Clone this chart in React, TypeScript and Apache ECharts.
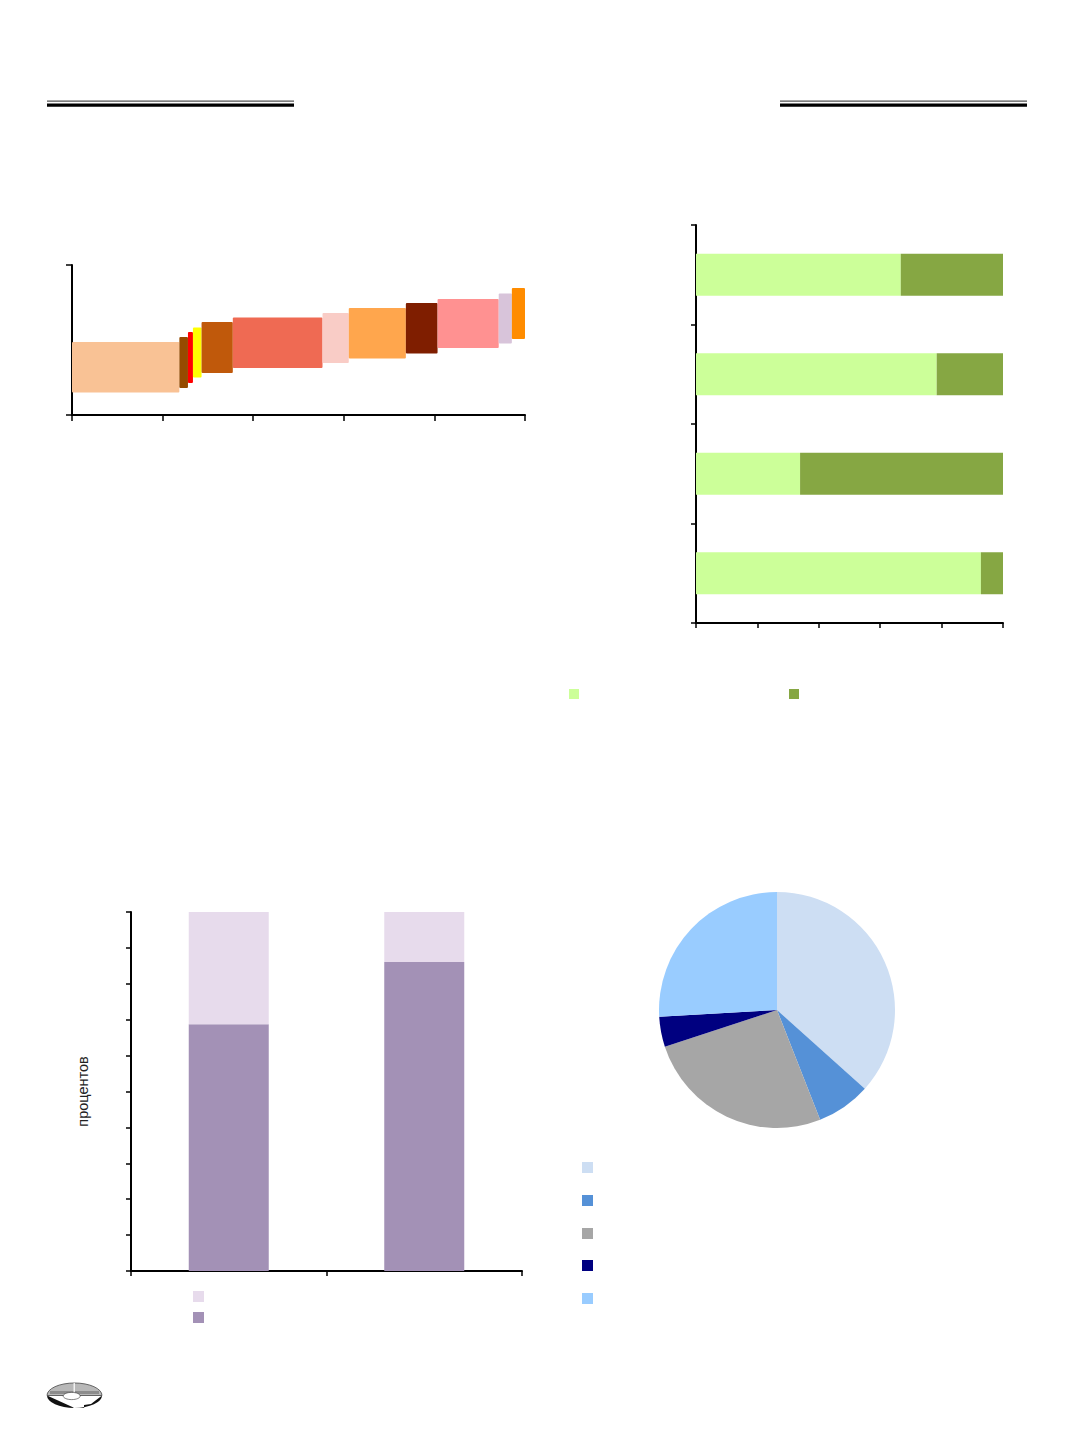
import React, { useEffect, useRef } from "react";
import * as echarts from "echarts";

// ---------- Data ----------
// Chart 1: floating boxes (x-range on a 0..100 cumulative scale, y-range)
const boxLeft = [0, 23.7, 25.6, 26.7, 28.6, 35.5, 55.3, 61.1, 73.7, 80.7, 94.2, 97.1];
const boxRight = [23.7, 25.6, 26.7, 28.6, 35.5, 55.3, 61.1, 73.7, 80.7, 94.2, 97.1, 100];
const boxLow = [4.5, 5.4, 6.4, 7.5, 8.4, 9.4, 10.4, 11.3, 12.3, 13.4, 14.3, 15.2];
const boxHigh = [14.6, 15.6, 16.6, 17.5, 18.6, 19.5, 20.4, 21.4, 22.4, 23.2, 24.3, 25.4];
const boxColors = [
  "#F9C295", "#964B00", "#FF0000", "#FFFF00", "#C0590B", "#EF6A53",
  "#F9CCC6", "#FFA64D", "#7F1E00", "#FF9191", "#D8C4DA", "#FF8C00",
];

// Chart 2: horizontal 100% stacked bars (top to bottom)
const hbarCategories = ["1", "2", "3", "4"];
const hbarLight = [66.7, 78.4, 33.9, 92.8];
const hbarDark = [33.3, 21.6, 66.1, 7.2];

// Chart 3: vertical 100% stacked bars
const vbarCategories = ["1", "2"];
const vbarDark = [68.7, 86.1];
const vbarLight = [31.3, 13.9];

// Chart 4: pie
const pieNames = ["сектор 1", "сектор 2", "сектор 3", "сектор 4", "сектор 5"];
const pieValues = [36.6, 7.4, 25.9, 4.1, 25.9];
const pieColors = ["#CDDEF3", "#5591D7", "#A6A6A6", "#000080", "#99CCFF"];

// ---------- Logo shapes ----------
let registered = false;
function registerLogo() {
  if (registered) return;
  registered = true;
  echarts.graphic.registerShape(
    "logoTop",
    echarts.graphic.extendPath("M0,12.5 A27.5,12.5 0 0 1 55,12.5 Z", {})
  );
  echarts.graphic.registerShape(
    "logoBottom",
    echarts.graphic.extendPath("M0,12.5 A27.5,12.5 0 0 0 55,12.5 L44,21 L37,22 L37,25 L27,25 L27,24.8 Z", {})
  );
}

const axisLineStyle = { show: true, lineStyle: { color: "#000", width: 2 } };
const tickStyle = (len: number) => ({
  show: true,
  inside: false,
  length: len,
  lineStyle: { color: "#000", width: 1.5 },
});

export default function App() {
  const ref = useRef<HTMLDivElement>(null);

  useEffect(() => {
    if (!ref.current) return;
    registerLogo();
    const chart = echarts.init(ref.current, undefined, { renderer: "svg" });

    const boxData = boxLeft.map((l, i) => ({
      value: [l, boxRight[i], boxLow[i], boxHigh[i]],
      itemStyle: { color: boxColors[i] },
    }));

    const emptyLegend = (name: string, left: number, top: number, size: number) => ({
      data: [name],
      left,
      top,
      padding: 0,
      itemWidth: size,
      itemHeight: size,
      icon: "rect",
      selectedMode: false,
      formatter: () => "",
      textStyle: { fontSize: 8, lineHeight: 8, padding: 0 },
    });

    const option: any = {
      animation: false,
      grid: [
        { left: 72, top: 265, width: 453, height: 150 },
        { left: 696, top: 225, width: 307, height: 398 },
        { left: 131, top: 912, width: 391, height: 359 },
      ],
      xAxis: [
        {
          gridIndex: 0, type: "value", min: 0, max: 100, interval: 20,
          axisLine: axisLineStyle, axisTick: tickStyle(6),
          axisLabel: { show: false }, splitLine: { show: false },
        },
        {
          gridIndex: 1, type: "value", min: 0, max: 100, interval: 20,
          axisLine: axisLineStyle, axisTick: tickStyle(5),
          axisLabel: { show: false }, splitLine: { show: false },
        },
        {
          gridIndex: 2, type: "category", data: vbarCategories,
          axisLine: axisLineStyle, axisTick: tickStyle(5),
          axisLabel: { show: false }, splitLine: { show: false },
        },
      ],
      yAxis: [
        {
          gridIndex: 0, type: "value", min: 0, max: 30, interval: 30,
          axisLine: axisLineStyle, axisTick: tickStyle(6),
          axisLabel: { show: false }, splitLine: { show: false },
        },
        {
          gridIndex: 1, type: "category", data: hbarCategories, inverse: true,
          axisLine: axisLineStyle, axisTick: tickStyle(5),
          axisLabel: { show: false }, splitLine: { show: false },
        },
        {
          gridIndex: 2, type: "value", min: 0, max: 100, interval: 10,
          axisLine: axisLineStyle, axisTick: tickStyle(5),
          axisLabel: { show: false }, splitLine: { show: false },
          name: "процентов",
          nameLocation: "middle",
          nameRotate: 90,
          nameGap: 41,
          nameTextStyle: { fontFamily: "Liberation Sans", fontSize: 14.5, color: "#222" },
        },
      ],
      legend: [
        emptyLegend("ряд 1", 569, 689, 10),
        emptyLegend("ряд 2", 789, 689, 10),
        emptyLegend("доля 2", 193, 1291, 11),
        emptyLegend("доля 1", 193, 1312, 11),
        emptyLegend(pieNames[0], 582, 1162, 11),
        emptyLegend(pieNames[1], 582, 1195, 11),
        emptyLegend(pieNames[2], 582, 1228, 11),
        emptyLegend(pieNames[3], 582, 1260, 11),
        emptyLegend(pieNames[4], 582, 1293, 11),
      ],
      series: [
        {
          type: "custom",
          xAxisIndex: 0,
          yAxisIndex: 0,
          encode: { x: [0, 1], y: [2, 3] },
          data: boxData,
          renderItem: (params: any, api: any) => {
            const p0 = api.coord([api.value(0), api.value(3)]);
            const p1 = api.coord([api.value(1), api.value(2)]);
            return {
              type: "rect",
              shape: { x: p0[0], y: p0[1], width: p1[0] - p0[0], height: p1[1] - p0[1], r: 1 },
              style: { fill: api.visual("color") },
            };
          },
          silent: true,
        },
        {
          name: "ряд 1",
          type: "bar",
          xAxisIndex: 1,
          yAxisIndex: 1,
          stack: "h",
          data: hbarLight,
          barWidth: 42,
          itemStyle: { color: "#CCFF99" },
          silent: true,
        },
        {
          name: "ряд 2",
          type: "bar",
          xAxisIndex: 1,
          yAxisIndex: 1,
          stack: "h",
          data: hbarDark,
          barWidth: 42,
          itemStyle: { color: "#86A743" },
          silent: true,
        },
        {
          name: "доля 1",
          type: "bar",
          xAxisIndex: 2,
          yAxisIndex: 2,
          stack: "v",
          data: vbarDark,
          barWidth: 80,
          itemStyle: { color: "#A391B6" },
          silent: true,
        },
        {
          name: "доля 2",
          type: "bar",
          xAxisIndex: 2,
          yAxisIndex: 2,
          stack: "v",
          data: vbarLight,
          barWidth: 80,
          itemStyle: { color: "#E7DBEC" },
          silent: true,
        },
        {
          type: "pie",
          center: [777, 1010],
          radius: 118,
          startAngle: 90,
          clockwise: true,
          label: { show: false },
          labelLine: { show: false },
          emphasis: { disabled: true },
          silent: true,
          itemStyle: { borderWidth: 0 },
          data: pieNames.map((n, i) => ({
            name: n,
            value: pieValues[i],
            itemStyle: { color: pieColors[i] },
          })),
        },
      ],
      graphic: [
        // header rules
        { type: "rect", shape: { x: 47, y: 100.6, width: 247, height: 1.2 }, style: { fill: "#555" } },
        { type: "rect", shape: { x: 47, y: 103.4, width: 247, height: 3.3 }, style: { fill: "#000" } },
        { type: "rect", shape: { x: 780, y: 100.6, width: 247, height: 1.2 }, style: { fill: "#555" } },
        { type: "rect", shape: { x: 780, y: 103.4, width: 247, height: 3.3 }, style: { fill: "#000" } },
        // logo
        { type: "logoBottom", x: 47, y: 1383, style: { fill: "#111" } },
        { type: "logoTop", x: 47, y: 1383, style: { fill: "#B8B8B8", stroke: "#444", lineWidth: 0.8 } },
        { type: "rect", shape: { x: 50, y: 1391, width: 49, height: 3 }, style: { fill: "#8C8C8C" } },
        { type: "rect", shape: { x: 73.6, y: 1383, width: 1.2, height: 25 }, style: { fill: "#fff" } },
        { type: "ellipse", shape: { cx: 71.7, cy: 1396, rx: 8.5, ry: 3.6 }, style: { fill: "#fff", stroke: "#333", lineWidth: 0.6 } },
      ],
    };

    chart.setOption(option);
    return () => chart.dispose();
  }, []);

  return (
    <div
      ref={ref}
      style={{ position: "absolute", left: 0, top: 0, width: 1072, height: 1433, background: "#fff" }}
    />
  );
}
